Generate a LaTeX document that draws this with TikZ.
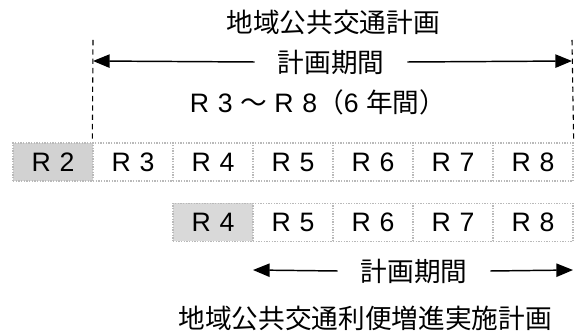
\documentclass[tikz,border=0pt]{standalone}
\usepackage{fontspec}
\setmainfont{Liberation Sans}
\newfontfamily\jafont{Noto Sans CJK JP}
\usetikzlibrary{arrows.meta}
\definecolor{oldgray}{HTML}{D2D2D2}
\definecolor{r4gray}{HTML}{D9D9D9}
\begin{document}
\begin{tikzpicture}[x=0.75pt, y=-0.75pt,
    yearcell/.style={draw=gray!55, densely dotted, line width=1pt, minimum width=60pt, minimum height=28.5pt, inner sep=0pt, font=\fontsize{20}{24}\selectfont},
    jalabel/.style={font=\jafont\fontsize{20}{24}\selectfont, inner sep=0pt},
    spanlabel/.style={jalabel, inner xsep=17pt, fill=white},
    spanarrow/.style={-{Triangle[length=12.5pt, width=10pt]}, line width=1.1pt},
    spanedge/.style={dashed, dash pattern=on 4pt off 3pt, line width=0.8pt}]
  \useasboundingbox (0,0) rectangle (575,334);
  % upper plan
  \node[jalabel] (plantitle) at (333,22) {地域公共交通計画};
  \node[spanlabel] (planspan) at (331,62) {計画期間};
  \node[inner sep=0pt, font=\fontsize{20}{24}\selectfont] (planyears) at (318,102) {R\,\,3 {\jafont ～} R\,\,8{\jafont （}6 {\jafont 年間）}};
  % year row of the plan
  \node[yearcell, fill=oldgray] (r2) at (53,162) {R\,\,2};
  \node[yearcell] (r3) at (133,162) {R\,\,3};
  \node[yearcell] (r4) at (213,162) {R\,\,4};
  \node[yearcell] (r5) at (293,162) {R\,\,5};
  \node[yearcell] (r6) at (373,162) {R\,\,6};
  \node[yearcell] (r7) at (453,162) {R\,\,7};
  \node[yearcell] (r8) at (533,162) {R\,\,8};
  \coordinate (edgeL) at (93,40);
  \coordinate (edgeR) at (572,40);
  \coordinate (tipL) at (93,61);
  \coordinate (tipR) at (572,61);
  \draw[spanedge] (edgeL) -- (r3.north west);
  \draw[spanedge] (edgeR) -- (r8.north east);
  \draw[spanarrow] (planspan.west) -- (tipL);
  \draw[spanarrow] (planspan.east) -- (tipR);
  % year row of the implementation plan
  \node[yearcell, fill=r4gray] (s4) at (213,222.5) {R\,\,4};
  \node[yearcell] (s5) at (293,222.5) {R\,\,5};
  \node[yearcell] (s6) at (373,222.5) {R\,\,6};
  \node[yearcell] (s7) at (453,222.5) {R\,\,7};
  \node[yearcell] (s8) at (533,222.5) {R\,\,8};
  \coordinate (tipL2) at (253,270);
  \coordinate (tipR2) at (573,270);
  \node[spanlabel] (implspan) at (414,271) {計画期間};
  \draw[spanarrow] (implspan.west) -- (tipL2);
  \draw[spanarrow] (implspan.east) -- (tipR2);
  \node[jalabel] (impltitle) at (365,318) {地域公共交通利便増進実施計画};
\end{tikzpicture}
\end{document}
